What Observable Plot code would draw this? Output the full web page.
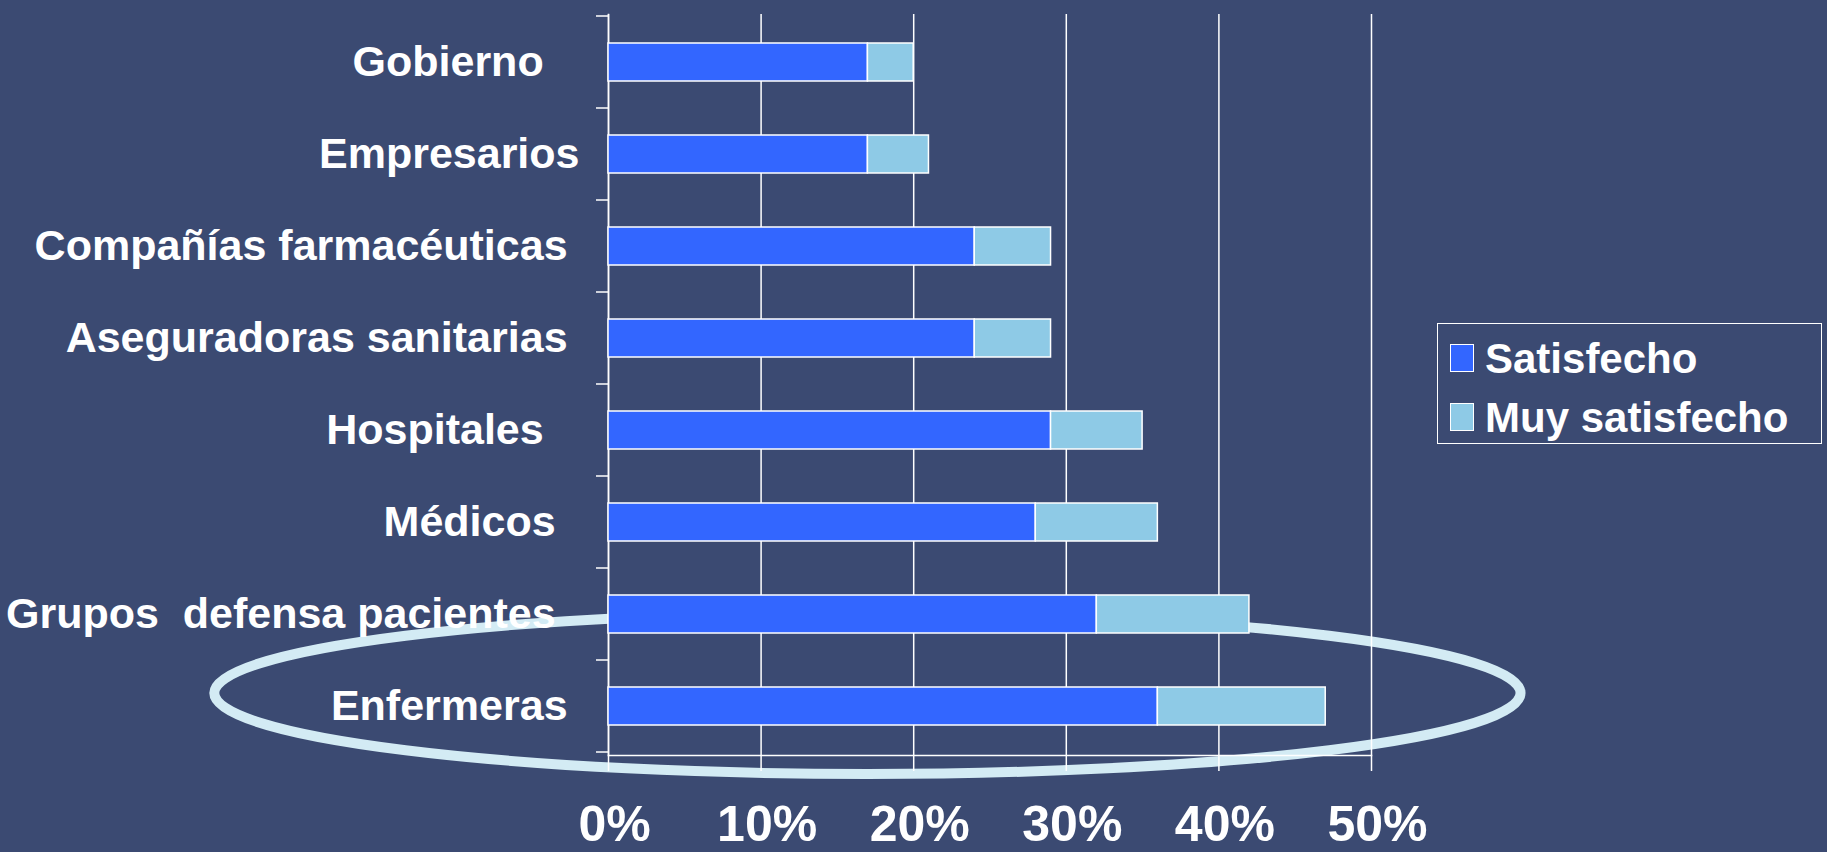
<!DOCTYPE html>
<html>
<head>
<meta charset="utf-8">
<script src="https://cdn.jsdelivr.net/npm/d3@7"></script>
<script src="https://cdn.jsdelivr.net/npm/@observablehq/plot@0.6"></script>
<style>
  html, body { margin: 0; padding: 0; background: #3b4a72; overflow: hidden; }
  #wrap { position: relative; width: 1827px; height: 852px; font-family: "Liberation Sans", Arial, sans-serif; }
  #legend { position: absolute; left: 1437px; top: 323px; width: 383px; height: 119px; border: 1.5px solid #ffffff; box-sizing: content-box; }
  .row { position: absolute; left: 12px; height: 42px; line-height: 42px; font-size: 42px; font-weight: bold; color: #ffffff; white-space: nowrap; }
  .sw { display: inline-block; width: 22px; height: 26px; border: 1.5px solid #ffffff; vertical-align: top; margin-top: 6px; margin-right: 11px; }
  svg text { white-space: pre; }
</style>
</head>
<body>
<div id="wrap"></div>
<script>
const categories = ["Gobierno", "Empresarios", "Compañías farmacéuticas", "Aseguradoras sanitarias", "Hospitales", "Médicos", "Grupos defensa pacientes", "Enfermeras"];
const tickLabels = ["Gobierno\u00a0\u00a0\u00a0", "Empresarios", "Compañías farmacéuticas\u00a0", "Aseguradoras sanitarias\u00a0", "Hospitales\u00a0\u00a0\u00a0", "Médicos\u00a0\u00a0", "Grupos\u00a0\u00a0defensa pacientes\u00a0\u00a0", "Enfermeras\u00a0"];
const satisfecho = [17, 17, 24, 24, 29, 28, 32, 36];
const muySatisfecho = [3, 4, 5, 5, 6, 8, 10, 11];
const seriesNames = ["Satisfecho", "Muy satisfecho"];
const seriesColors = ["#3366ff", "#8ecae6"];
const xTicks = [0, 10, 20, 30, 40, 50];
const highlighted = "Enfermeras";

const rows = [
  ...categories.map((c, i) => ({cat: c, series: seriesNames[0], value: satisfecho[i]})),
  ...categories.map((c, i) => ({cat: c, series: seriesNames[1], value: muySatisfecho[i]}))
];
const labelOf = new Map(categories.map((c, i) => [c, tickLabels[i]]));

const font = "'Liberation Sans', Arial, sans-serif";
const chart = Plot.plot({
  width: 1827,
  height: 852,
  marginLeft: 608,
  marginRight: 456,
  marginTop: 14,
  marginBottom: 97,
  style: {background: "#3b4a72", color: "#ffffff", fontFamily: font},
  x: {domain: [0, 50]},
  y: {domain: categories, paddingInner: 0.583, paddingOuter: 0.2915},
  color: {domain: seriesNames, range: seriesColors},
  marks: [
    Plot.gridX(xTicks, {stroke: "#ffffff", strokeOpacity: 1, strokeWidth: 1.5}),
    Plot.frame({anchor: "left", stroke: "#ffffff", strokeWidth: 1.5}),
    Plot.frame({anchor: "bottom", stroke: "#ffffff", strokeWidth: 1.5}),
    Plot.barX(rows, {x: "value", y: "cat", fill: "series", stroke: "#ffffff", strokeWidth: 1.5}),
    Plot.axisX({ticks: xTicks, tickSize: 16, stroke: "#ffffff", strokeWidth: 1.5, tickFormat: () => "", label: null}),
    Plot.axisX({ticks: xTicks, tickSize: 0, tickPadding: 50, fontSize: 50, fontWeight: "bold", dx: 6,
      tickFormat: d => d + "%", label: null}),
    Plot.axisY({tickSize: 0, tickPadding: 29, fontSize: 43, fontWeight: "bold", label: null,
      tickFormat: d => labelOf.get(d)})
  ]
});

// decorations positioned from the plot's own scales
const xs = chart.scale("x");
const ys = chart.scale("y");
const svg = d3.select(chart);
const halfGap = (ys.step - ys.bandwidth) / 2;
const yCenter = ys.apply(highlighted) + ys.bandwidth / 2;
const x0 = xs.apply(0);
svg.insert("ellipse", "g")
  .attr("cx", xs.apply(17))
  .attr("cy", yCenter - 13)
  .attr("rx", xs.apply(42.8) - x0)
  .attr("ry", 81)
  .attr("fill", "none")
  .attr("stroke", "#d3ebf4")
  .attr("stroke-width", 10);
const boundaries = categories.map(c => ys.apply(c) - halfGap);
boundaries.push(ys.apply(categories[categories.length - 1]) + ys.bandwidth + halfGap);
svg.append("g").attr("stroke", "#ffffff").attr("stroke-width", 1.5)
  .selectAll("line").data(boundaries).join("line")
  .attr("x1", x0 - 12).attr("x2", x0)
  .attr("y1", d => d).attr("y2", d => d);

const wrap = document.getElementById("wrap");
wrap.appendChild(chart);

const legend = document.createElement("div");
legend.id = "legend";
seriesNames.forEach((name, i) => {
  const row = document.createElement("div");
  row.className = "row";
  row.style.top = (i === 0 ? 14 : 73) + "px";
  const sw = document.createElement("span");
  sw.className = "sw";
  sw.style.background = seriesColors[i];
  row.appendChild(sw);
  row.appendChild(document.createTextNode(name));
  legend.appendChild(row);
});
wrap.appendChild(legend);
</script>
</body>
</html>
